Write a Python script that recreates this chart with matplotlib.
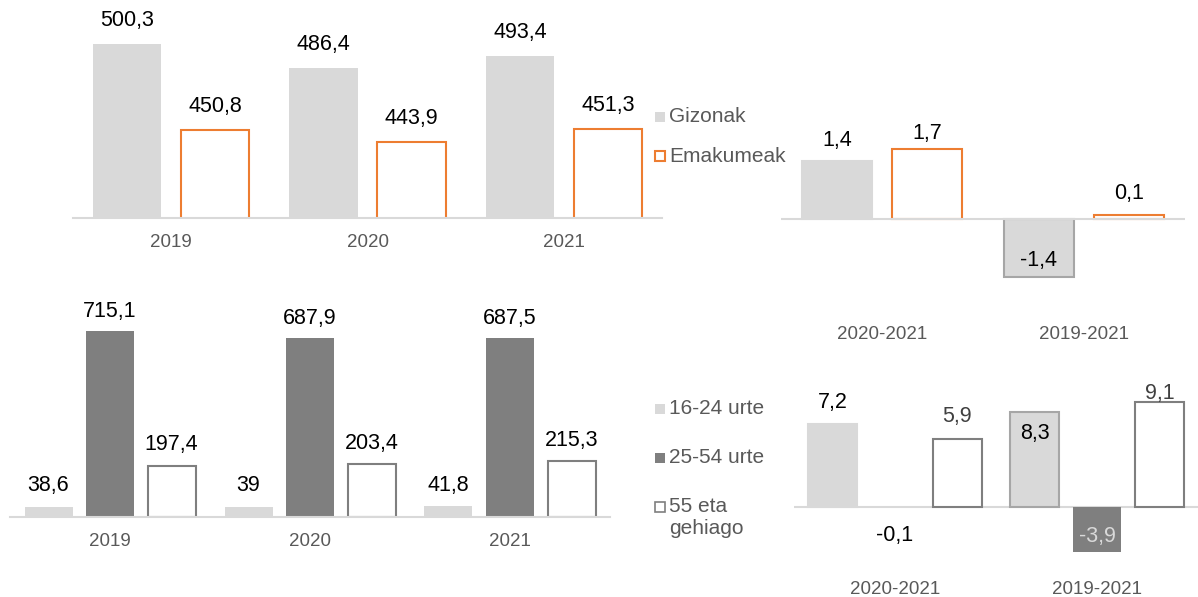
import numpy as np
import matplotlib.pyplot as plt
from matplotlib.patches import Rectangle

plt.rcParams["font.family"] = ["Liberation Sans", "DejaVu Sans"]

W, H = 1198, 597

# top-left: employed population by sex (thousands)
years = ["2019", "2020", "2021"]
gizonak = [500.3, 486.4, 493.4]
emakumeak = [450.8, 443.9, 451.3]

# top-right: change by sex (%)
periods = ["2020-2021", "2019-2021"]
gizonak_chg = [1.4, -1.4]
emakumeak_chg = [1.7, 0.1]

# bottom-left: employed population by age (thousands)
age_16_24 = [38.6, 39, 41.8]
age_25_54 = [715.1, 687.9, 687.5]
age_55 = [197.4, 203.4, 215.3]

# bottom-right: change by age (%)
age_16_24_chg = [7.2, 8.3]
age_25_54_chg = [-0.1, -3.9]
age_55_chg = [5.9, 9.1]

sex_labels = ["Gizonak", "Emakumeak"]
age_labels = ["16-24 urte", "25-54 urte", "55 eta\ngehiago"]

LIGHT = "#d9d9d9"
DARK = "#7f7f7f"
ORANGE = "#ed7d31"
TXT = "#595959"
VAL_FS = 15.5
CAT_FS = 13.5


def px_axes(fig, left, top, right, bottom):
    return fig.add_axes([left / W, 1 - bottom / H, (right - left) / W, (bottom - top) / H])


def fmt(v):
    return f"{v:g}".replace(".", ",")


def label(ax, x, v, dy, color="black"):
    ax.annotate(fmt(v), (x, v), xytext=(0, dy), textcoords="offset pixels",
                ha="center", va="center", fontsize=VAL_FS, color=color,
                annotation_clip=False)


def style(ax, cats):
    for s in ax.spines.values():
        s.set_visible(False)
    ax.set_yticks([])
    ax.set_xticks(np.arange(len(cats)), cats)
    ax.tick_params(axis="x", length=0, pad=11.5, labelsize=CAT_FS, labelcolor=TXT)
    ax.set_xlim(-0.5, len(cats) - 0.5)


fig = plt.figure(figsize=(W / 100, H / 100), dpi=100)

# ---- top-left
ax = px_axes(fig, 73, 0, 662, 218)
x = np.arange(len(years))
ax.bar(x - 0.224, gizonak, 0.347, color=LIGHT, zorder=2)
ax.bar(x + 0.224, emakumeak, 0.347, color="white", edgecolor=ORANGE, linewidth=1.5, zorder=2)
ax.set_ylim(400, 525.5)
style(ax, years)
ax.spines["bottom"].set_visible(True)
ax.spines["bottom"].set_color(LIGHT)
ax.spines["bottom"].set_linewidth(1.5)
ax.spines["bottom"].set_zorder(3)
for i in x:
    label(ax, i - 0.224, gizonak[i], 23)
    label(ax, i + 0.224, emakumeak[i], 23)

# ---- top-right
ax = px_axes(fig, 781, 100, 1185, 310)
x = np.arange(len(periods))
ax.bar(x - 0.224, gizonak_chg, 0.348, color=LIGHT,
       edgecolor=[LIGHT, "#a6a6a6"], linewidth=1.5, zorder=2)
ax.bar(x + 0.224, emakumeak_chg, 0.348, color="white", edgecolor=ORANGE, linewidth=1.5, zorder=2)
ax.set_ylim(-(310 - 219) / 41.4, (219 - 100) / 41.4)
ax.axhline(0, color=LIGHT, linewidth=1.5, zorder=3)
style(ax, periods)
label(ax, 0 - 0.224, gizonak_chg[0], 21)
label(ax, 1 - 0.224, gizonak_chg[1], 16)
label(ax, 0 + 0.224, emakumeak_chg[0], 15)
label(ax, 1 + 0.224, emakumeak_chg[1], 21)

# ---- bottom-left
ax = px_axes(fig, 10, 290, 610, 517)
x = np.arange(len(years))
ax.bar(x - 0.3075, age_16_24, 0.24, color=LIGHT, zorder=2)
ax.bar(x, age_25_54, 0.24, color=DARK, zorder=2)
ax.bar(x + 0.3075, age_55, 0.24, color="white", edgecolor=DARK, linewidth=1.5, zorder=2)
ax.set_ylim(0, 227 / 0.26)
style(ax, years)
ax.spines["bottom"].set_visible(True)
ax.spines["bottom"].set_color(LIGHT)
ax.spines["bottom"].set_linewidth(1.5)
for i in x:
    label(ax, i - 0.3075, age_16_24[i], 21)
    label(ax, i, age_25_54[i], 20)
    label(ax, i + 0.3075, age_55[i], 21)

# ---- bottom-right
ax = px_axes(fig, 794, 380, 1198, 565)
x = np.arange(len(periods))
ax.bar(x - 0.309, age_16_24_chg, 0.24, color=LIGHT,
       edgecolor=[LIGHT, "#a6a6a6"], linewidth=1.5, zorder=2)
ax.bar(x, age_25_54_chg, 0.24, color=[LIGHT, DARK], zorder=2)
ax.bar(x + 0.309, age_55_chg, 0.24, color="white", edgecolor=DARK, linewidth=1.5, zorder=2)
ax.set_ylim(-(565 - 507) / 11.5, (507 - 380) / 11.5)
ax.axhline(0, color=LIGHT, linewidth=1.5, zorder=1)
style(ax, periods)
label(ax, 0 - 0.309, age_16_24_chg[0], 22)
label(ax, 1 - 0.309, age_16_24_chg[1], -22)
label(ax, 0, age_25_54_chg[0], -27)
label(ax, 1, age_25_54_chg[1], 15, color=LIGHT)
label(ax, 0 + 0.309, age_55_chg[0], 23, color="#404040")
label(ax, 1 + 0.309, age_55_chg[1], 9, color="#404040")

# ---- legends drawn in pixel space
lg = fig.add_axes([0, 0, 1, 1])
lg.set_xlim(0, W)
lg.set_ylim(H, 0)
lg.axis("off")

sex_styles = [dict(facecolor=LIGHT, edgecolor="none"),
              dict(facecolor="white", edgecolor=ORANGE, linewidth=1.5)]
for lab, st, yc in zip(sex_labels, sex_styles, [117, 156]):
    lg.add_patch(Rectangle((654.5, yc - 5.5), 10, 10, **st))
    lg.text(669, yc, lab, fontsize=15, color=TXT, va="center", ha="left")

age_styles = [dict(facecolor=LIGHT, edgecolor="none"),
              dict(facecolor=DARK, edgecolor="none"),
              dict(facecolor="white", edgecolor=DARK, linewidth=1.2)]
for lab, st, yc in zip(age_labels, age_styles, [409, 458, 507]):
    lg.add_patch(Rectangle((654.5, yc - 5.5), 10, 10, **st))
    lg.text(669, yc - 10, lab, fontsize=15, color=TXT, va="top", ha="left",
            linespacing=1.2)

fig.savefig("out.png", dpi=100)
